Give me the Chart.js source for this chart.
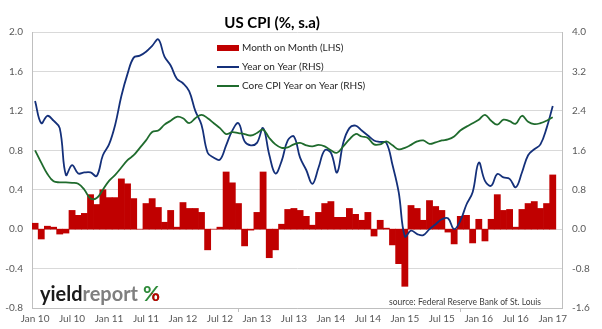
<!DOCTYPE html>
<html>
<head>
<meta charset="utf-8">
<title>US CPI</title>
<script src="https://cdn.jsdelivr.net/npm/chart.js@4.4.0/dist/chart.umd.min.js"></script>
<style>
  html, body { margin: 0; padding: 0; background: #ffffff; }
  #wrap { width: 602px; height: 329px; }
</style>
</head>
<body>
<div id="wrap"><canvas id="cpiChart" width="602" height="329"></canvas></div>
<script>
// -------------------- DATA --------------------
const chartTitle = "US CPI (%, s.a)";
const sourceText = "source: Federal Reserve Bank of St. Louis";
const seriesNames = ["Month on Month (LHS)", "Year on Year (RHS)", "Core CPI Year on Year (RHS)"];

const monthNames = ["Jan", "Feb", "Mar", "Apr", "May", "Jun", "Jul", "Aug", "Sep", "Oct", "Nov", "Dec"];
const years = [10, 11, 12, 13, 14, 15, 16, 17];
const lastMonth = "Feb 17"; // axis runs one empty month past the last print

// monthly change, Jan 10 .. Jan 17
const momValues = [
  0.06, -0.10, 0.03, 0.02, -0.05, -0.04, 0.19, 0.14, 0.16, 0.35, 0.25, 0.40,
  0.32, 0.32, 0.51, 0.46, 0.31, 0.00, 0.26, 0.31, 0.22, 0.07, 0.19, 0.02,
  0.27, 0.21, 0.21, 0.17, -0.21, 0.00, 0.02, 0.58, 0.47, 0.26, -0.17, -0.01,
  0.17, 0.58, -0.29, -0.21, 0.05, 0.20, 0.21, 0.19, 0.13, 0.04, 0.17, 0.26,
  0.28, 0.12, 0.12, 0.21, 0.15, 0.09, 0.17, -0.07, 0.09, 0.01, -0.16, -0.35,
  -0.58, 0.24, 0.21, 0.09, 0.29, 0.23, 0.19, -0.03, -0.15, 0.13, 0.14, -0.14,
  0.10, -0.12, 0.10, 0.35, 0.19, 0.20, 0.02, 0.20, 0.26, 0.28, 0.21, 0.26,
  0.55
];

// headline annual rate
const yoyValues = [
  2.60, 2.15, 2.30, 2.20, 2.05, 1.10, 1.30, 1.13, 1.15, 1.15, 1.08, 1.50,
  1.72, 2.12, 2.70, 3.15, 3.48, 3.52, 3.60, 3.72, 3.85, 3.50, 3.32, 3.05,
  2.96, 2.80, 2.40, 2.12, 1.55, 1.45, 1.41, 1.70, 2.00, 2.15, 1.78, 1.70,
  1.75, 2.05, 1.51, 1.13, 1.38, 1.80, 1.88, 1.45, 1.20, 0.92, 1.25, 1.60,
  1.55, 1.15, 1.75, 2.05, 2.10, 2.00, 1.90, 1.80, 1.77, 1.75, 1.30, 0.75,
  -0.15, -0.03, -0.10, -0.12, 0.00, 0.10, 0.20, 0.22, 0.00, 0.17, 0.50, 0.75,
  1.35, 0.98, 0.88, 1.12, 1.05, 1.02, 0.85, 1.15, 1.50, 1.62, 1.72, 2.05,
  2.50
];

// core annual rate
const coreValues = [
  1.60, 1.35, 1.12, 0.97, 0.95, 0.95, 0.94, 0.92, 0.80, 0.62, 0.63, 0.80,
  0.98, 1.10, 1.25, 1.40, 1.50, 1.65, 1.80, 1.97, 2.00, 2.12, 2.20, 2.28,
  2.25, 2.15, 2.25, 2.32, 2.25, 2.15, 2.05, 1.93, 1.97, 1.95, 1.93, 1.90,
  1.95, 2.02, 1.85, 1.72, 1.65, 1.66, 1.72, 1.75, 1.70, 1.68, 1.71, 1.68,
  1.60, 1.55, 1.68, 1.82, 1.93, 1.88, 1.85, 1.72, 1.72, 1.78, 1.70, 1.62,
  1.65, 1.71, 1.78, 1.80, 1.73, 1.76, 1.80, 1.82, 1.88, 2.00, 2.08, 2.15,
  2.22, 2.32, 2.20, 2.12, 2.22, 2.19, 2.14, 2.30, 2.18, 2.13, 2.15, 2.20,
  2.27
];

const leftAxis = { min: -0.8, max: 2.0, step: 0.4 };
const rightAxis = { min: -1.6, max: 4.0, step: 0.8 };

// -------------------- LABELS --------------------
let categories = [];
years.forEach(y => monthNames.forEach(m => categories.push(m + " " + y)));
categories = categories.slice(0, categories.indexOf(lastMonth) + 1);

// -------------------- STYLE --------------------
const RED = "#c00000";
const BLUE = "#14307a";
const GREEN = "#1f6b2d";
const GRID = "#d9d9d9";
const AXIS = "#bfbfbf";
const TICK_FONT = { family: "Lato", size: 10 };
const TICK_COLOR = "#595959";

function fmt(v) {
  return Math.abs(v) < 1e-9 ? "0.0" : v.toFixed(1);
}

// -------------------- OVERLAY (title, legend, source, logo) --------------------
const overlay = {
  id: "overlay",
  afterDraw(chart) {
    const c = chart.ctx;
    c.save();

    // title
    c.font = "bold 15px Lato";
    c.fillStyle = "#000000";
    c.textAlign = "center";
    c.textBaseline = "middle";
    c.fillText(chartTitle, 272, 23);

    // legend, stacked inside the plot
    c.font = "10px Lato";
    c.textAlign = "left";
    const ds = chart.data.datasets;
    ds.forEach((d, i) => {
      const y = 48 + i * 19;
      if (d.type === "bar") {
        c.fillStyle = d.backgroundColor;
        c.fillRect(217, y - 3, 22, 6);
      } else {
        c.strokeStyle = d.borderColor;
        c.lineWidth = 2;
        c.beginPath();
        c.moveTo(217, y);
        c.lineTo(239, y);
        c.stroke();
      }
      c.fillStyle = "#262626";
      c.fillText(d.label, 242, y);
    });

    // source note
    c.font = "8.5px Lato";
    c.textAlign = "right";
    c.fillStyle = "#404040";
    c.fillText(sourceText, 541, 302);

    // logo
    c.font = "bold 20px Lato";
    c.textAlign = "left";
    c.textBaseline = "alphabetic";
    const w1 = c.measureText("yield").width;
    const w2 = c.measureText("report").width;
    const sx = 98 / (w1 + w2);
    c.save();
    c.translate(40, 301);
    c.scale(sx, 1);
    c.fillStyle = "#1a1a1a";
    c.fillText("yield", 0, 0);
    c.fillStyle = "#7f7f7f";
    c.fillText("report", w1, 0);
    c.restore();

    // percent sign: green, lower ring in red
    const pw = c.measureText("%").width;
    c.save();
    c.translate(143, 301);
    c.scale(17 / pw, 1);
    c.fillStyle = "#2e8b3a";
    c.fillText("%", 0, 0);
    c.beginPath();
    c.rect(pw * 0.5, -8, pw, 12);
    c.clip();
    c.fillStyle = RED;
    c.fillText("%", 0, 0);
    c.restore();

    c.restore();
  }
};

// -------------------- CHART --------------------
const ctx = document.getElementById("cpiChart").getContext("2d");
const chart = new Chart(ctx, {
  data: {
    labels: categories,
    datasets: [
      {
        type: "bar",
        label: seriesNames[0],
        data: momValues,
        backgroundColor: RED,
        borderWidth: 0,
        barPercentage: 1,
        categoryPercentage: 1,
        yAxisID: "y",
        order: 3
      },
      {
        type: "line",
        label: seriesNames[1],
        data: yoyValues,
        borderColor: BLUE,
        borderWidth: 1.8,
        pointRadius: 0,
        tension: 0.4,
        fill: false,
        yAxisID: "y1",
        order: 2
      },
      {
        type: "line",
        label: seriesNames[2],
        data: coreValues,
        borderColor: GREEN,
        borderWidth: 1.8,
        pointRadius: 0,
        tension: 0.4,
        fill: false,
        yAxisID: "y1",
        order: 1
      }
    ]
  },
  options: {
    responsive: false,
    animation: false,
    devicePixelRatio: 1,
    layout: { padding: { top: 32, left: 0, right: 0, bottom: 0 } },
    plugins: {
      legend: { display: false },
      title: { display: false },
      tooltip: { enabled: false }
    },
    scales: {
      x: {
        type: "category",
        offset: true,
        grid: {
          offset: true,
          drawOnChartArea: false,
          drawTicks: true,
          tickLength: 4,
          color: c => (c.index !== undefined && c.index % 6 === 0 ? AXIS : "rgba(0,0,0,0)")
        },
        border: { display: true, color: AXIS },
        ticks: {
          autoSkip: false,
          maxRotation: 0,
          minRotation: 0,
          padding: 1,
          font: TICK_FONT,
          color: TICK_COLOR,
          callback: function (val, i) {
            return i % 6 === 0 ? this.getLabelForValue(val) : null;
          }
        },
        afterFit: s => { s.height = 21; }
      },
      y: {
        position: "left",
        min: leftAxis.min,
        max: leftAxis.max,
        grid: { color: GRID, drawTicks: false },
        border: { display: true, color: AXIS },
        ticks: { stepSize: leftAxis.step, padding: 9, font: TICK_FONT, color: TICK_COLOR, callback: fmt },
        afterFit: s => { s.width = 32; }
      },
      y1: {
        position: "right",
        min: rightAxis.min,
        max: rightAxis.max,
        grid: { drawOnChartArea: false, drawTicks: false },
        border: { display: true, color: AXIS },
        ticks: { stepSize: rightAxis.step, padding: 10, font: TICK_FONT, color: TICK_COLOR, callback: fmt },
        afterFit: s => { s.width = 40; }
      }
    }
  },
  plugins: [overlay]
});
</script>
</body>
</html>
